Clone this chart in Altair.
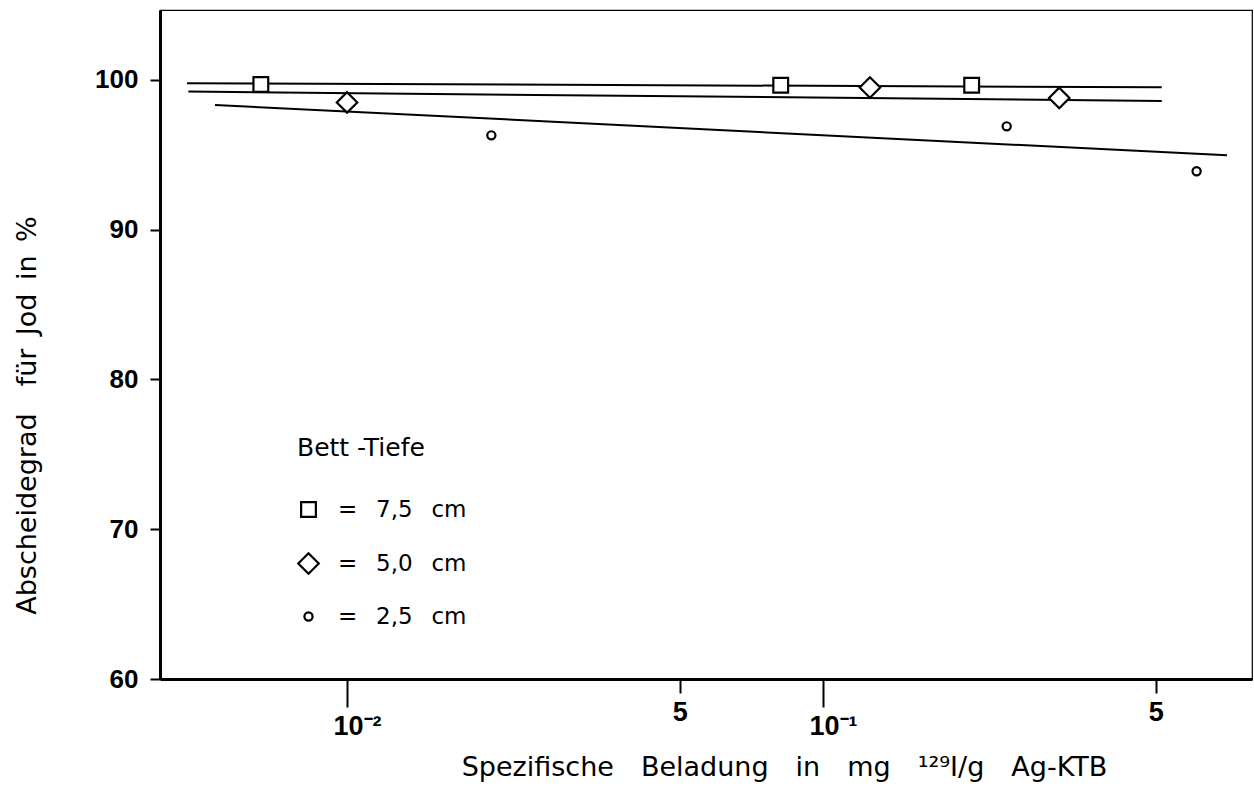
import altair as alt
import pandas as pd

# ---- data ----
depth = ["7,5 cm", "5,0 cm", "2,5 cm"]

pt_depth = ["7,5 cm", "7,5 cm", "7,5 cm",
            "5,0 cm", "5,0 cm", "5,0 cm",
            "2,5 cm", "2,5 cm", "2,5 cm"]
pt_x = [0.00659, 0.0815, 0.2053,
        0.0100, 0.1255, 0.3136,
        0.0201, 0.2432, 0.6095]
pt_y = [99.7, 99.65, 99.65,
        98.5, 99.5, 98.8,
        96.3, 96.9, 93.9]

fit_depth = ["7,5 cm", "7,5 cm", "5,0 cm", "5,0 cm", "2,5 cm", "2,5 cm"]
fit_x = [0.00461, 0.515, 0.00464, 0.515, 0.00528, 0.706]
fit_y = [99.78, 99.51, 99.22, 98.60, 98.33, 94.97]

x_ticks = [0.01, 0.05, 0.1, 0.5]
y_ticks = [60, 70, 80, 90, 100]
x_domain = [0.004046, 0.7968]
y_domain = [60, 104.67]

pts = pd.DataFrame({"x": pt_x, "y": pt_y, "depth": pt_depth})
fits = pd.DataFrame({"x": fit_x, "y": fit_y, "depth": fit_depth})

# ---- styles ----
FONT = "DejaVu Sans"
NUMFONT = "Liberation Sans Narrow, Liberation Sans"
EM = "\u2003"
EN = "\u2002"
SYM_SIZE = 420
# custom symbol paths in the [-1, 1] box: square, diamond, small circle
shapes = [
    "M-0.72,-0.72L0.72,-0.72L0.72,0.72L-0.72,0.72Z",
    "M0,-1L1,0L0,1L-1,0Z",
    "M0.4,0A0.4,0.4,0,1,1,-0.4,0A0.4,0.4,0,1,1,0.4,0Z",
]

x_scale = alt.Scale(type="log", domain=x_domain, nice=False, zero=False)
y_scale = alt.Scale(domain=y_domain, nice=False, zero=False)

is_pow = "datum.value < 0.011 || (datum.value > 0.09 && datum.value < 0.11)"

x_axis = alt.Axis(
    values=x_ticks,
    labelExpr="datum.value < 0.011 ? '10⁻²' : (datum.value > 0.09 && datum.value < 0.11) ? '10⁻¹' : '5'",
    title=f"Spezifische{EM}Beladung{EM}in{EM}mg{EM}¹²⁹I/g{EM}Ag-KTB",
    titleFont=FONT, titleFontSize=27, titleFontWeight="normal", titleColor="black",
    titleX=624, titleY=96, titleBaseline="alphabetic", titleAlign="center",
    labelFont=NUMFONT, labelFontSize=27, labelFontWeight="bold", labelColor="black", labelPadding=6,
    labelAlign={"condition": {"test": is_pow, "value": "left"}, "value": "center"},
    labelOffset={"condition": {"test": is_pow, "value": -14}, "value": 0},
    tickSize={"condition": {"test": is_pow, "value": 28}, "value": 14},
    tickColor="black", tickWidth=2,
    domainColor="black", domainWidth=3, grid=False,
)
y_axis = alt.Axis(
    values=y_ticks,
    title=f"Abscheidegrad{EM}für{EN}Jod{EN}in{EN}%",
    titleFont=FONT, titleFontSize=27, titleFontWeight="normal", titleColor="black",
    titleX=-133, titleY=405, titleAngle=270, titleBaseline="middle", titleAlign="center",
    labelFont=NUMFONT, labelFontSize=26, labelFontWeight="bold", labelColor="black", labelPadding=12,
    tickSize=10, tickColor="black", tickWidth=2,
    domainColor="black", domainWidth=3, grid=False,
)

lines = alt.Chart(fits).mark_line(color="black", strokeWidth=2).encode(
    x=alt.X("x:Q", scale=x_scale, axis=x_axis),
    y=alt.Y("y:Q", scale=y_scale, axis=y_axis),
    detail="depth:N",
)

legend = alt.Legend(
    title="Bett -Tiefe", orient="none", legendX=137, legendY=426,
    labelExpr=f"'={EN} ' + replace(datum.label, ' ', '{EN} ')",
    symbolSize=SYM_SIZE, symbolStrokeWidth=2.2,
)

points = alt.Chart(pts).mark_point(
    filled=True, fill="white", stroke="black", strokeWidth=2.2,
    opacity=1, fillOpacity=1, strokeOpacity=1, size=SYM_SIZE,
).encode(
    x=alt.X("x:Q", scale=x_scale),
    y=alt.Y("y:Q", scale=y_scale),
    shape=alt.Shape("depth:N", scale=alt.Scale(domain=depth, range=shapes), legend=legend),
)

chart = alt.layer(lines, points).properties(
    width=1092, height=669,
    autosize=alt.AutoSizeParams(type="none"),
    padding={"left": 160, "top": 10, "right": 2, "bottom": 112},
    background="white",
).configure_view(
    stroke="black", strokeWidth=1.2
).configure_legend(
    titleFont=FONT, titleFontSize=25, titleFontWeight="normal", titleColor="black",
    labelFont=FONT, labelFontSize=23, labelColor="black",
    rowPadding=26, titlePadding=37, labelOffset=18, padding=0,
)

chart.save("out.html", embed_options={"renderer": "svg", "actions": False})
